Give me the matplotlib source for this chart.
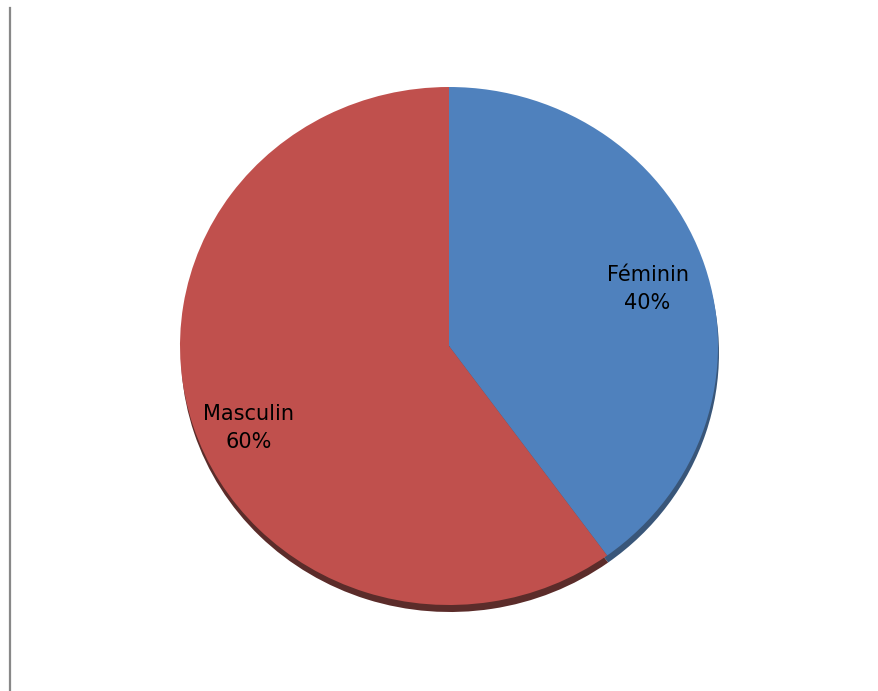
import matplotlib
matplotlib.use("Agg")
import matplotlib.pyplot as plt
import numpy as np

categories = ["Féminin", "Masculin"]
values = [40, 60]
colors = ["#4F81BD", "#C0504D"]
shadow_colors = ["#2E4D72", "#52201E"]

W, H = 879, 691
fig = plt.figure(figsize=(W / 100, H / 100), dpi=100)
fig.patch.set_facecolor("white")

# left border line
fig.add_artist(plt.Line2D([9.5 / W, 9.5 / W], [0, 1 - 8 / H], color="#888888", lw=1.6))

ax = fig.add_axes([0, 0, 1, 1])
ax.set_axis_off()
rx, ry = 269.0, 259.0
cx, cy_px = 449.0, 346.0
ky = ry / rx  # y pixels per data unit
cy = (H - cy_px) / ky

# shadow
ax.pie(values, colors=shadow_colors, startangle=90, counterclock=False,
       radius=rx, center=(cx + 1, cy - 7 / ky), frame=True,
       wedgeprops=dict(linewidth=0, alpha=0.95))
wedges, texts = ax.pie(values, colors=colors, startangle=90, counterclock=False,
                       radius=rx, center=(cx, cy), frame=True,
                       labels=[f"{c}\n{v}%" for c, v in zip(categories, values)],
                       labeldistance=0.78,
                       wedgeprops=dict(linewidth=0),
                       textprops=dict(fontsize=15, family="DejaVu Sans", color="black",
                                      linespacing=1.5))
label_r = [0.77, 0.81]
label_da = [-1.5, 5.0]
for t, w, r, da in zip(texts, wedges, label_r, label_da):
    ang = np.deg2rad((w.theta1 + w.theta2) / 2 + da)
    t.set_position((cx + r * rx * np.cos(ang), cy + r * rx * np.sin(ang)))
    t.set_ha("center")
    t.set_va("center")
ax.set_aspect("auto")
ax.set_xlim(0, W)
ax.set_ylim(0, H / ky)
ax.set_axis_off()

fig.savefig("out.png", dpi=100, facecolor="white")
